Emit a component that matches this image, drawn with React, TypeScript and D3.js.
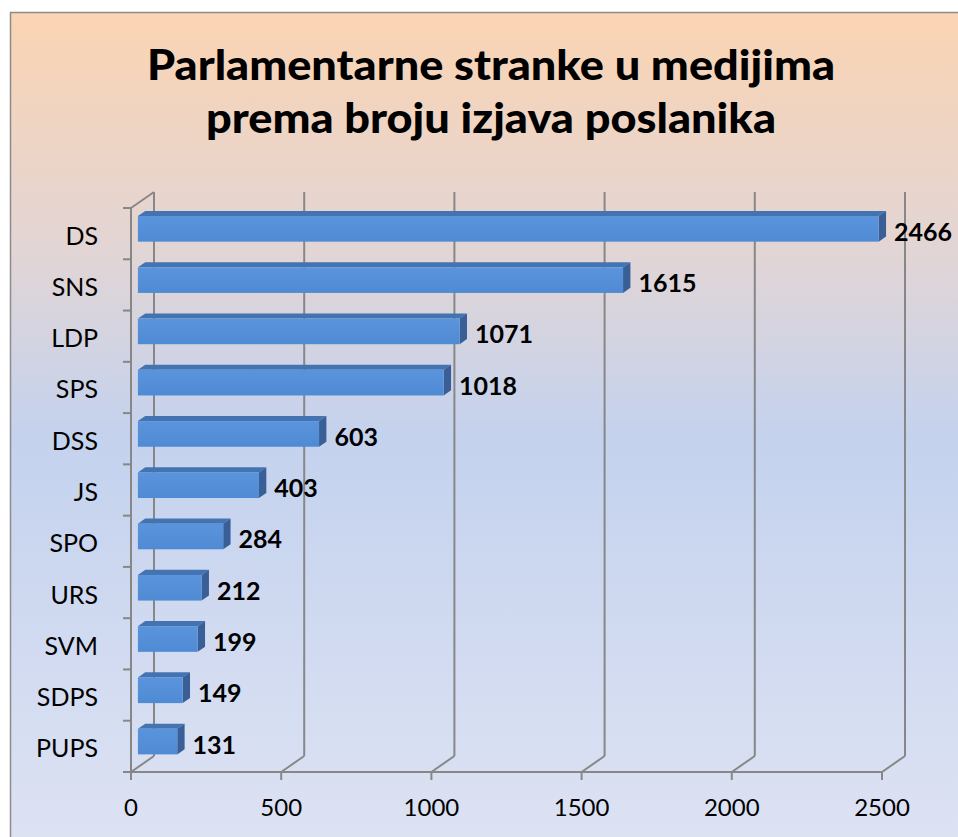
import React from "react";
import * as d3 from "d3";

// data
const parties = ["DS", "SNS", "LDP", "SPS", "DSS", "JS", "SPO", "URS", "SVM", "SDPS", "PUPS"];
const statements = [2466, 1615, 1071, 1018, 603, 403, 284, 212, 199, 149, 131];
const xTicks = [0, 500, 1000, 1500, 2000, 2500];
const titleLines = ["Parlamentarne stranke u medijima", "prema broju izjava poslanika"];

const W = 958;
const H = 837;
const FONT = "Lato, 'Open Sans', sans-serif";

// fake 3d depth of the plot box
const DX = 23;
const DY = -16;
const BAR_FRONT = 0.3;
const BAR_BACK = 0.62;
const GRID = "#878787";

const App = () => {
  const x = d3.scaleLinear().domain([0, 2500]).range([131, 882]);
  const y = d3.scaleBand().domain(parties).range([208, 772]);
  const [top, bottom] = y.range();
  const barH = y.bandwidth() * 0.5;

  const fx = BAR_FRONT * DX, fy = BAR_FRONT * DY;
  const bx = BAR_BACK * DX, by = BAR_BACK * DY;

  return (
    <svg width={W} height={H} style={{ position: "absolute", left: 0, top: 0 }}>
      <defs>
        <linearGradient id="bg" x1="0" y1="0" x2="0" y2="1">
          <stop offset="0%" stopColor="#fbd4b2" />
          <stop offset="28%" stopColor="#e2d5d5" />
          <stop offset="50%" stopColor="#c4d2ee" />
          <stop offset="100%" stopColor="#dee3f3" />
        </linearGradient>
        <linearGradient id="barFront" x1="0" y1="0" x2="0" y2="1">
          <stop offset="0%" stopColor="#5a94dc" />
          <stop offset="100%" stopColor="#4f8ad4" />
        </linearGradient>
      </defs>
      <rect x={10.5} y={12.5} width={W + 10} height={H + 10} fill="url(#bg)" stroke="#8c8c8c" strokeWidth={1.5} />

      {/* title */}
      {titleLines.map((t, i) => (
        <text
          key={t}
          x={491}
          y={80 + i * 53}
          textAnchor="middle"
          fontFamily={FONT}
          fontWeight="900"
          fontSize={42}
          fill="#000"
          textLength={i === 0 ? 688 : 570}
          lengthAdjust="spacingAndGlyphs"
        >
          {t}
        </text>
      ))}

      {/* back wall gridlines */}
      {xTicks.map((t) => (
        <line key={"g" + t} x1={x(t) + DX} x2={x(t) + DX} y1={top + DY} y2={bottom + DY} stroke={GRID} strokeWidth={2} />
      ))}
      {/* floor diagonals */}
      {xTicks.map((t) => (
        <line key={"f" + t} x1={x(t)} y1={bottom} x2={x(t) + DX} y2={bottom + DY} stroke={GRID} strokeWidth={2} />
      ))}
      {/* left wall top edge */}
      <line x1={x(0)} y1={top} x2={x(0) + DX} y2={top + DY} stroke={GRID} strokeWidth={2} />

      {/* bars */}
      {parties.map((p, i) => {
        const v = statements[i];
        const yc = y(p)! + y.bandwidth() / 2;
        const y0 = yc - barH / 2;
        const y1 = yc + barH / 2;
        const x0 = x(0);
        const x1 = x(v);
        const topFace = [
          [x0 + fx, y0 + fy],
          [x1 + fx, y0 + fy],
          [x1 + bx, y0 + by],
          [x0 + bx, y0 + by],
        ];
        const sideFace = [
          [x1 + fx, y0 + fy],
          [x1 + bx, y0 + by],
          [x1 + bx, y1 + by],
          [x1 + fx, y1 + fy],
        ];
        return (
          <g key={p}>
            <polygon points={topFace.map((d) => d.join(",")).join(" ")} fill="#4473b2" />
            <polygon points={sideFace.map((d) => d.join(",")).join(" ")} fill="#395f96" />
            <rect x={x0 + fx} y={y0 + fy} width={x1 - x0} height={barH} fill="url(#barFront)" />
            <text
              x={x1 + bx + 8}
              y={yc + fy + 12}
              fontFamily={FONT}
              fontWeight="bold"
              fontSize={25}
              fill="#000"
            >
              {v}
            </text>
          </g>
        );
      })}

      {/* category axis */}
      <line x1={x(0)} x2={x(0)} y1={top} y2={bottom} stroke={GRID} strokeWidth={2} />
      {[...parties.map((p) => y(p)!), bottom].map((yy, i) => (
        <line key={"yt" + i} x1={x(0) - 8} x2={x(0)} y1={yy} y2={yy} stroke={GRID} strokeWidth={2} />
      ))}
      {parties.map((p) => (
        <text
          key={"l" + p}
          x={98}
          y={y(p)! + y.bandwidth() / 2 + 11}
          textAnchor="end"
          fontFamily={FONT}
          fontSize={25}
          fill="#000"
        >
          {p}
        </text>
      ))}

      {/* value axis */}
      <line x1={x(0) - 8} x2={x(2500)} y1={bottom} y2={bottom} stroke={GRID} strokeWidth={2} />
      {xTicks.map((t) => (
        <g key={"xt" + t}>
          <line x1={x(t)} x2={x(t)} y1={bottom} y2={bottom + 8} stroke={GRID} strokeWidth={2} />
          <text x={x(t)} y={816} textAnchor="middle" fontFamily={FONT} fontSize={24} fill="#000">
            {t}
          </text>
        </g>
      ))}
    </svg>
  );
};

export default App;
